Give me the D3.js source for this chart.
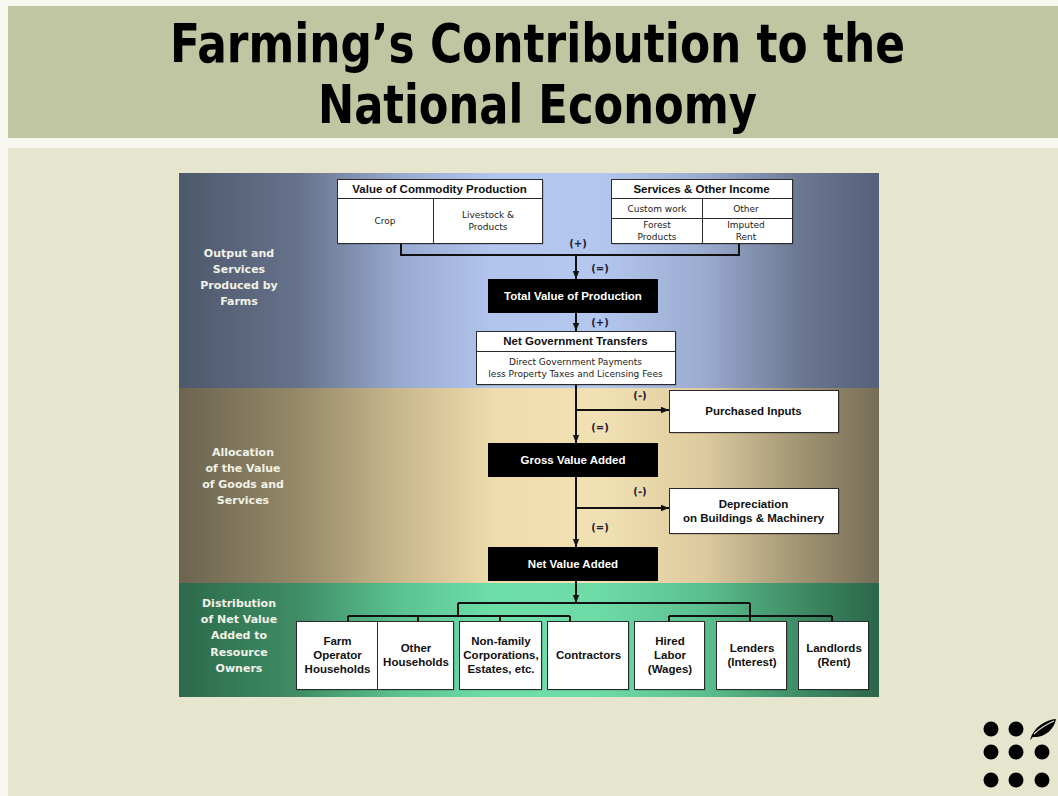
<!DOCTYPE html>
<html>
<head>
<meta charset="utf-8">
<script src="https://cdn.jsdelivr.net/npm/d3@7"></script>
<style>
  body { margin: 0; background: #e6e5cd; }
  svg { display: block; }
</style>
</head>
<body>
<svg width="1058" height="796"></svg>
<script>
// ---- content ----
const titleLines = ['Farming’s Contribution to the', 'National Economy'];
const sectionLabels = [
  ['Output and', 'Services', 'Produced by', 'Farms'],
  ['Allocation', 'of the Value', 'of Goods and', 'Services'],
  ['Distribution', 'of Net Value', 'Added to', 'Resource', 'Owners']
];
const commodityTitle = 'Value of Commodity Production';
const commodityParts = [['Crop'], ['Livestock &', 'Products']];
const servicesTitle = 'Services & Other Income';
const servicesParts = [['Custom work'], ['Other'], ['Forest', 'Products'], ['Imputed', 'Rent']];
const govTitle = 'Net Government Transfers';
const govLines = ['Direct Government Payments', 'less Property Taxes and Licensing Fees'];
const mainSteps = ['Total Value of Production', 'Gross Value Added', 'Net Value Added'];
const deductions = [['Purchased Inputs'], ['Depreciation', 'on Buildings & Machinery']];
const owners = [
  ['Farm', 'Operator', 'Households'], ['Other', 'Households'],
  ['Non-family', 'Corporations,', 'Estates, etc.'], ['Contractors'],
  ['Hired', 'Labor', '(Wages)'], ['Lenders', '(Interest)'], ['Landlords', '(Rent)']
];
const ownerGroup = [0, 0, 0, 0, 1, 1, 1];
const signs = ['(+)', '(=)', '(+)', '(-)', '(=)', '(-)', '(=)'];

// ---- layout ----
const panel = { x0: 179, x1: 879, bands: [173, 388, 583, 697] };
const spine = 576;
const stepBox = { x0: 488, x1: 658, h: 34, tops: [279, 443, 547] };
const dedBox = { x0: 669, x1: 838, ys: [[390, 432], [488, 533]], branchY: [410, 508] };
const ownerX = [[296, 377], [377, 453], [459, 541], [547, 628], [634, 704], [716, 786], [798, 868]];
const ownerDrop = [348, 418, 500, 570, 669, 750, 832];
const ownerY = [621, 689];

const svg = d3.select('svg');
const defs = svg.append('defs');

// background & title band
svg.append('rect').attr('x', 0).attr('y', 0).attr('width', 1058).attr('height', 796).attr('fill', '#f7f7ef');
svg.append('rect').attr('x', 8).attr('y', 148).attr('width', 1050).attr('height', 648).attr('fill', '#e6e5cd');
svg.append('rect').attr('x', 8).attr('y', 6).attr('width', 1050).attr('height', 132).attr('fill', '#c0c5a2');

const titleG = svg.append('g')
  .attr('font-family', '"Liberation Sans Narrow", "DejaVu Sans Condensed", sans-serif')
  .attr('font-weight', 'bold').attr('font-size', 54).attr('fill', '#000');
const titleGeo = [{ x0: 170, x1: 905, y: 62 }, { x0: 318, x1: 757, y: 123 }];
titleG.selectAll('text').data(titleLines).join('text')
  .attr('x', (d, i) => titleGeo[i].x0)
  .attr('y', (d, i) => titleGeo[i].y)
  .attr('textLength', (d, i) => titleGeo[i].x1 - titleGeo[i].x0)
  .attr('lengthAdjust', 'spacingAndGlyphs')
  .text(d => d);

// section gradients
const bandStops = [
  ['#4e586c', '#66728b', '#9aabd1', '#b2c5ed', '#b4c7ee', '#9babd0', '#6b7791', '#55607a'],
  ['#6c6450', '#958969', '#cbb98e', '#eedcae', '#f2e1b2', '#ddcb9f', '#a09373', '#766d57'],
  ['#2c6a4c', '#3f8d66', '#5cc392', '#6edea9', '#6edba7', '#5bbf8f', '#3e8b65', '#2c664a']
];
const stopPos = [0, 0.17, 0.32, 0.45, 0.6, 0.75, 0.89, 1];
bandStops.forEach((stops, i) => {
  const g = defs.append('linearGradient').attr('id', 'band' + i)
    .attr('x1', 0).attr('x2', 1).attr('y1', 0).attr('y2', 0);
  g.selectAll('stop').data(stops).join('stop')
    .attr('offset', (d, j) => stopPos[j]).attr('stop-color', d => d);
});
svg.selectAll('rect.band').data(bandStops).join('rect').attr('class', 'band')
  .attr('x', panel.x0).attr('width', panel.x1 - panel.x0)
  .attr('y', (d, i) => panel.bands[i])
  .attr('height', (d, i) => panel.bands[i + 1] - panel.bands[i])
  .attr('fill', (d, i) => `url(#band${i})`);

// section labels
const labelCenter = [{ x: 239, y: 253 }, { x: 243, y: 452 }, { x: 239, y: 603 }];
const labLH = [16, 16, 16.2];
sectionLabels.forEach((lines, i) => {
  svg.append('g').attr('font-family', '"DejaVu Sans", sans-serif').attr('font-weight', 'bold')
    .attr('font-size', 11).attr('fill', '#f1f1e6').attr('text-anchor', 'middle')
    .selectAll('text').data(lines).join('text')
    .attr('x', labelCenter[i].x)
    .attr('y', (d, j) => labelCenter[i].y + j * labLH[i] + 4)
    .text(d => d);
});

// arrow marker
defs.append('marker').attr('id', 'arr').attr('viewBox', '0 0 10 10')
  .attr('refX', 10).attr('refY', 5).attr('markerWidth', 4).attr('markerHeight', 4)
  .attr('markerUnits', 'strokeWidth').attr('orient', 'auto')
  .append('path').attr('d', 'M0,1L10,5L0,9Z').attr('fill', '#111');

const lines = svg.append('g').attr('stroke', '#111').attr('stroke-width', 2).attr('fill', 'none');
const line = d3.line();

// helpers
function whiteBox(x0, y0, x1, y1) {
  svg.append('rect').attr('x', x0 + 1.5).attr('y', y0 + 1.5).attr('width', x1 - x0).attr('height', y1 - y0)
    .attr('fill', 'rgba(0,0,0,0.25)');
  return svg.append('rect').attr('x', x0 + 0.5).attr('y', y0 + 0.5).attr('width', x1 - x0).attr('height', y1 - y0)
    .attr('fill', '#fff').attr('stroke', '#2a2a2a').attr('stroke-width', 1);
}
function textBlock(lines, cx, cy, lh, opts) {
  const g = svg.append('g').attr('text-anchor', 'middle')
    .attr('font-family', opts.family).attr('font-weight', opts.weight || 'normal')
    .attr('font-size', opts.size).attr('fill', opts.fill || '#111');
  const top = cy - (lines.length - 1) * lh / 2;
  g.selectAll('text').data(lines).join('text')
    .attr('x', cx).attr('y', (d, j) => top + j * lh).attr('dy', '0.35em')
    .text(d => d);
  return g;
}
const arial = '"Liberation Sans", Arial, sans-serif';
const small = '"DejaVu Sans", Tahoma, sans-serif';

// connectors (drawn before boxes)
lines.append('path').attr('d', line([[401, 243], [401, 255], [739, 255], [739, 243]]));
lines.append('path').attr('d', line([[spine, 255], [spine, stepBox.tops[0]]])).attr('marker-end', 'url(#arr)');
lines.append('path').attr('d', line([[spine, stepBox.tops[0] + stepBox.h], [spine, 331]])).attr('marker-end', 'url(#arr)');
lines.append('path').attr('d', line([[spine, 384], [spine, stepBox.tops[1]]])).attr('marker-end', 'url(#arr)');
lines.append('path').attr('d', line([[spine, stepBox.tops[1] + stepBox.h], [spine, stepBox.tops[2]]])).attr('marker-end', 'url(#arr)');
dedBox.branchY.forEach(y => {
  lines.append('path').attr('d', line([[spine, y], [dedBox.x0, y]])).attr('marker-end', 'url(#arr)');
});
lines.append('path').attr('d', line([[spine, stepBox.tops[2] + stepBox.h], [spine, 603]])).attr('marker-end', 'url(#arr)');
lines.append('path').attr('d', line([[458, 603], [750, 603]]));
lines.append('path').attr('d', line([[458, 603], [458, 616]]));
lines.append('path').attr('d', line([[750, 603], [750, 616]]));
[0, 1].forEach(gi => {
  const xs = ownerDrop.filter((d, i) => ownerGroup[i] === gi);
  lines.append('path').attr('d', line([[d3.min(xs), 616], [d3.max(xs), 616]]));
  xs.forEach(xx => lines.append('path').attr('d', line([[xx, 616], [xx, ownerY[0]]])));
});

// sign labels
const signPos = [[578, 243], [600, 268], [600, 322], [640, 395], [600, 427], [640, 491], [600, 527]];
svg.append('g').attr('font-family', small).attr('font-weight', 'bold').attr('font-size', 10)
  .attr('fill', '#1b1b3a').attr('text-anchor', 'middle')
  .selectAll('text').data(signs).join('text')
  .attr('x', (d, i) => signPos[i][0]).attr('y', (d, i) => signPos[i][1]).attr('dy', '0.35em')
  .text(d => d);

// commodity box
whiteBox(337, 179, 542, 243);
svg.append('line').attr('x1', 337.5).attr('x2', 542.5).attr('y1', 198.5).attr('y2', 198.5).attr('stroke', '#2a2a2a');
svg.append('line').attr('x1', 433.5).attr('x2', 433.5).attr('y1', 198.5).attr('y2', 243.5).attr('stroke', '#2a2a2a');
textBlock([commodityTitle], 439.5, 189, 12, { family: arial, weight: 'bold', size: 11.5 });
const commCx = [385, 488];
commodityParts.forEach((p, i) => textBlock(p, commCx[i], 221, 12, { family: small, size: 9, fill: '#222' }));

// services box
whiteBox(611, 179, 792, 243);
svg.append('line').attr('x1', 611.5).attr('x2', 792.5).attr('y1', 198.5).attr('y2', 198.5).attr('stroke', '#2a2a2a');
svg.append('line').attr('x1', 611.5).attr('x2', 792.5).attr('y1', 218.5).attr('y2', 218.5).attr('stroke', '#2a2a2a');
svg.append('line').attr('x1', 702.5).attr('x2', 702.5).attr('y1', 198.5).attr('y2', 243.5).attr('stroke', '#2a2a2a');
textBlock([servicesTitle], 701.5, 189, 12, { family: arial, weight: 'bold', size: 11.5 });
const servPos = [[657, 208.5], [746, 208.5], [657, 231], [746, 231]];
servicesParts.forEach((p, i) => textBlock(p, servPos[i][0], servPos[i][1], 11.5, { family: small, size: 9, fill: '#222' }));

// government transfers
whiteBox(476, 331, 675, 384);
svg.append('line').attr('x1', 476.5).attr('x2', 675.5).attr('y1', 351.5).attr('y2', 351.5).attr('stroke', '#2a2a2a');
textBlock([govTitle], 575.5, 341, 12, { family: arial, weight: 'bold', size: 11.5 });
textBlock(govLines, 575.5, 368, 12, { family: small, size: 9, fill: '#222' });

// main black steps
svg.selectAll('rect.step').data(mainSteps).join('rect').attr('class', 'step')
  .attr('x', stepBox.x0).attr('width', stepBox.x1 - stepBox.x0)
  .attr('y', (d, i) => stepBox.tops[i]).attr('height', stepBox.h).attr('fill', '#000');
mainSteps.forEach((s, i) => textBlock([s], (stepBox.x0 + stepBox.x1) / 2, stepBox.tops[i] + stepBox.h / 2, 12,
  { family: arial, weight: 'bold', size: 11.5, fill: '#fff' }));

// deductions
deductions.forEach((d, i) => {
  whiteBox(dedBox.x0, dedBox.ys[i][0], dedBox.x1, dedBox.ys[i][1]);
  textBlock(d, (dedBox.x0 + dedBox.x1) / 2, (dedBox.ys[i][0] + dedBox.ys[i][1]) / 2, 14,
    { family: arial, weight: 'bold', size: 11.5 });
});

// owners
owners.forEach((o, i) => {
  whiteBox(ownerX[i][0], ownerY[0], ownerX[i][1], ownerY[1]);
  textBlock(o, (ownerX[i][0] + ownerX[i][1]) / 2 + 1, (ownerY[0] + ownerY[1]) / 2, 14,
    { family: arial, weight: 'bold', size: 11.5 });
});

// logo
const dotX = [991, 1016, 1042], dotY = [729, 752, 780];
const dots = [];
dotY.forEach((yy, r) => dotX.forEach((xx, c) => { if (!(r === 0 && c === 2)) dots.push([xx, yy]); }));
svg.append('g').selectAll('circle').data(dots).join('circle')
  .attr('cx', d => d[0]).attr('cy', d => d[1]).attr('r', 7.5).attr('fill', '#000');
svg.append('path')
  .attr('d', 'M1030,740 C1034,726 1046,720 1056,719 C1054,730 1044,738 1033,737 Z')
  .attr('fill', '#000');
svg.append('path')
  .attr('d', 'M1034,734 C1040,728 1047,724 1054,721')
  .attr('stroke', '#e6e5cd').attr('stroke-width', 1.2).attr('fill', 'none');
</script>
</body>
</html>
